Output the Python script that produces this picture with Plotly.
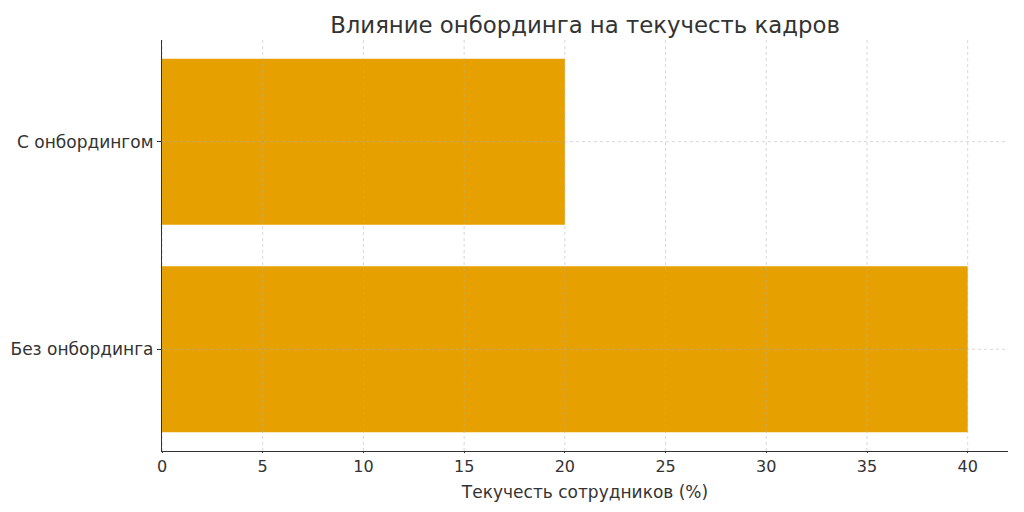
import plotly.graph_objects as go

categories = ["Без онбординга", "С онбордингом"]
turnover = [40, 20]
x_ticks = [0, 5, 10, 15, 20, 25, 30, 35, 40]

bar_color = "#E6A000"
text_color = "#333333"

fig = go.Figure()
fig.add_trace(go.Bar(
    x=turnover,
    y=categories,
    orientation="h",
    marker=dict(color=bar_color, line=dict(width=0)),
    width=0.8,
))

# dashed grid drawn over the bars, like the original
grid = dict(color="rgba(176,176,176,0.5)", width=1, dash="3px,3px")
for t in x_ticks:
    fig.add_shape(type="line", xref="x", yref="paper", x0=t, x1=t, y0=0, y1=1,
                  line=grid, layer="above")
for c in categories:
    fig.add_shape(type="line", xref="paper", yref="y", x0=0, x1=1, y0=c, y1=c,
                  line=grid, layer="above")

fig.update_layout(
    width=1024, height=512,
    margin=dict(l=154, r=24, t=32, b=69),
    plot_bgcolor="white",
    paper_bgcolor="white",
    font=dict(family="DejaVu Sans", size=16, color=text_color),
    title=dict(text="Влияние онбординга на текучесть кадров", x=0.5635, xanchor="center",
               y=0.967, yanchor="middle", font=dict(size=22.8, color=text_color)),
    showlegend=False,
    bargap=0.2,
)
fig.update_xaxes(
    range=[0, 42], tickvals=x_ticks, showgrid=False, zeroline=False,
    showline=True, linecolor="#333333", linewidth=1.2,
    ticks="outside", ticklen=1, tickcolor="#333333",
    title=dict(text="Текучесть сотрудников (%)", standoff=10, font=dict(size=17)),
    automargin=False,
)
fig.update_yaxes(
    range=[-0.49, 1.49], showgrid=False, zeroline=False,
    showline=True, linecolor="#333333", linewidth=1.2,
    ticks="outside", ticklen=4, tickcolor="#333333",
    tickfont=dict(size=17), automargin=False,
)

fig.write_html("out.html")
